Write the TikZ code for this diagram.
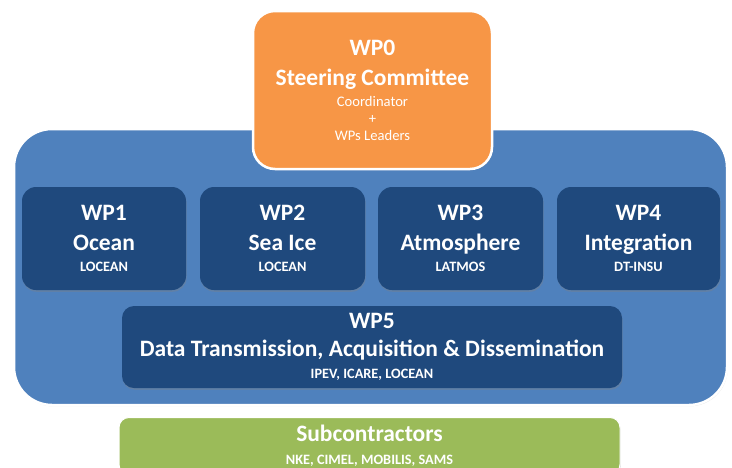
\documentclass[tikz,border=0pt]{standalone}
\usepackage{fontspec}
\setmainfont{Carlito}
\usetikzlibrary{shadows}

\definecolor{frameblue}{RGB}{79,129,189}
\definecolor{wpblue}{RGB}{31,73,125}
\definecolor{wporange}{RGB}{247,150,70}
\definecolor{wpgreen}{RGB}{155,187,89}

\newcommand{\lab}{\fontsize{14.3}{16}\selectfont}
\newcommand{\lead}{\mdseries\fontsize{14.6}{16}\selectfont}

\tikzset{
  panel/.style={rounded corners=38pt, fill=frameblue, draw=white, line width=2.5pt,
    drop shadow={shadow xshift=0.8pt, shadow yshift=-1.2pt, opacity=0.25}},
  wpbox/.style={rounded corners=14pt, fill=wpblue, text=white, align=center, inner sep=0pt,
    font=\bfseries\fontsize{23.5}{29}\selectfont,
    drop shadow={shadow xshift=0.6pt, shadow yshift=-1.8pt, opacity=0.35}},
}

\begin{document}
\begin{tikzpicture}[x=1pt,y=-1pt]
        \useasboundingbox (0,0) rectangle (732,467);
        \clip (0,0) rectangle (732,467);

        % blue frame holding WP1..WP5
        \node[panel, minimum width=713pt, minimum height=276pt] (frame) at (370.5,267) {};

        % steering committee on top
        \node[panel, rounded corners=22pt, fill=wporange, minimum width=239pt, minimum height=158pt,
              text=white, align=center, inner sep=0pt, font=\bfseries\fontsize{23.5}{30}\selectfont]
              (wp0) at (372.5,90)
              {WP0\\Steering Committee\\[-9pt]\lead Coordinator\\[-13pt]\lead +\\[-13pt]\lead WPs Leaders};

        % work packages
        \node[wpbox, minimum width=164pt, minimum height=103pt] (wp1) at (104,238.5)
              {WP1\\[1pt]Ocean\\[-8pt]\lab LOCEAN};
        \node[wpbox, minimum width=165pt, minimum height=103pt] (wp2) at (282.5,238.5)
              {WP2\\[1pt]Sea Ice\\[-8pt]\lab LOCEAN};
        \node[wpbox, minimum width=165pt, minimum height=103pt] (wp3) at (460.5,238.5)
              {WP3\\[1pt]Atmosphere\\[-8pt]\lab LATMOS};
        \node[wpbox, minimum width=163pt, minimum height=103pt] (wp4) at (638.5,238.5)
              {WP4\\[1pt]Integration\\[-8pt]\lab DT-INSU};

        \node[wpbox, rounded corners=12pt, minimum width=500pt, minimum height=82pt,
              font=\bfseries\fontsize{23.5}{28}\selectfont] (wp5) at (372,347)
              {WP5\\Data Transmission, Acquisition \& Dissemination\\[-6pt]\lab IPEV, ICARE, LOCEAN};

        % subcontractors, runs off the bottom edge
        \node[wpbox, fill=wpgreen, rounded corners=10pt, minimum width=501pt, minimum height=57pt,
              draw=white, line width=1pt, drop shadow={opacity=0},
              font=\bfseries\fontsize{23.5}{21}\selectfont] (sub) at (369.5,446)
              {Subcontractors\\[2pt]\lab NKE, CIMEL, MOBILIS, SAMS};
\end{tikzpicture}
\end{document}
